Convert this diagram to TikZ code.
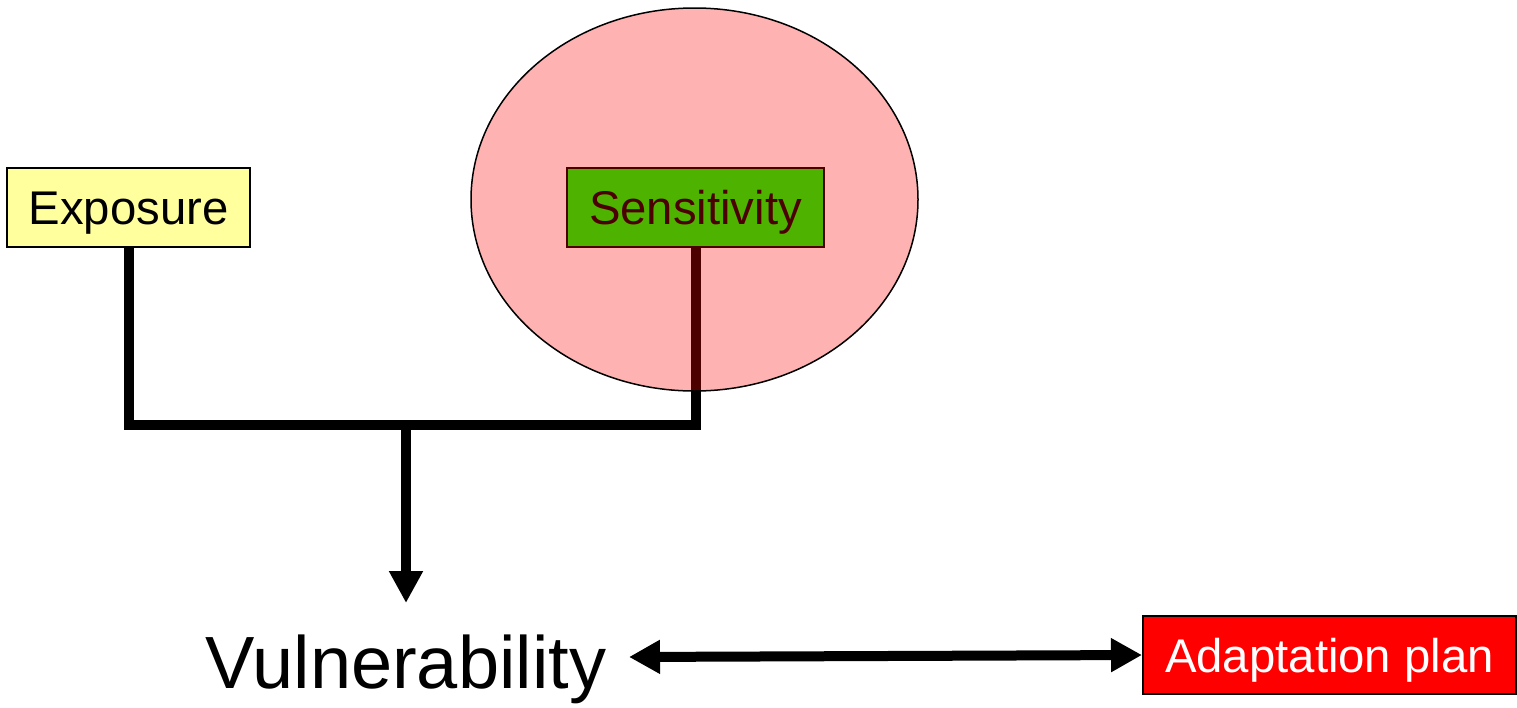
\documentclass[tikz,border=0pt]{standalone}
\usepackage{fontspec}
\setmainfont{Liberation Sans}
\usetikzlibrary{arrows.meta}
\definecolor{expofill}{HTML}{FFFF9E}
\begin{document}
\begin{tikzpicture}[x=1pt,y=-1pt,
  box/.style={draw=black,line width=2pt,inner sep=0pt,text height=34pt,text depth=0pt,
    font=\fontsize{47.3}{52}\selectfont},
  conn/.style={line width=10pt,line join=miter},
  tip/.style={-{Triangle[length=32pt,width=32pt]}}]
\useasboundingbox (0,0) rectangle (1517,707);
\node[box,fill=expofill,minimum width=243pt,minimum height=79pt] (expo) at (128.5,207.5) {Exposure};
\node[box,fill=green,minimum width=257pt,minimum height=79pt] (sens) at (695.5,207.5) {Sensitivity};
\node[box,fill=red,text=white,minimum width=373pt,minimum height=78pt] (ada) at (1329.5,655) {Adaptation plan};
\node[anchor=base,inner sep=0pt,font=\fontsize{74}{80}\selectfont] (vul) at (406,688) {Vulnerability};
\coordinate (j) at (406,425);
\coordinate (vtip) at (406,603);
\coordinate (al) at (629,657);
\draw[conn] (expo.south) |- (j) -| (sens.south);
\draw[conn,tip] (j) -- (vtip);
\draw[line width=10pt,{Triangle[length=31pt,width=32pt]}-{Triangle[length=31pt,width=32pt]}] (al) -- (ada.west);
\path[draw=black,line width=1.5pt,fill=red,fill opacity=0.3] (694.5,199.5) ellipse [x radius=223.5,y radius=191.5];
\end{tikzpicture}
\end{document}
